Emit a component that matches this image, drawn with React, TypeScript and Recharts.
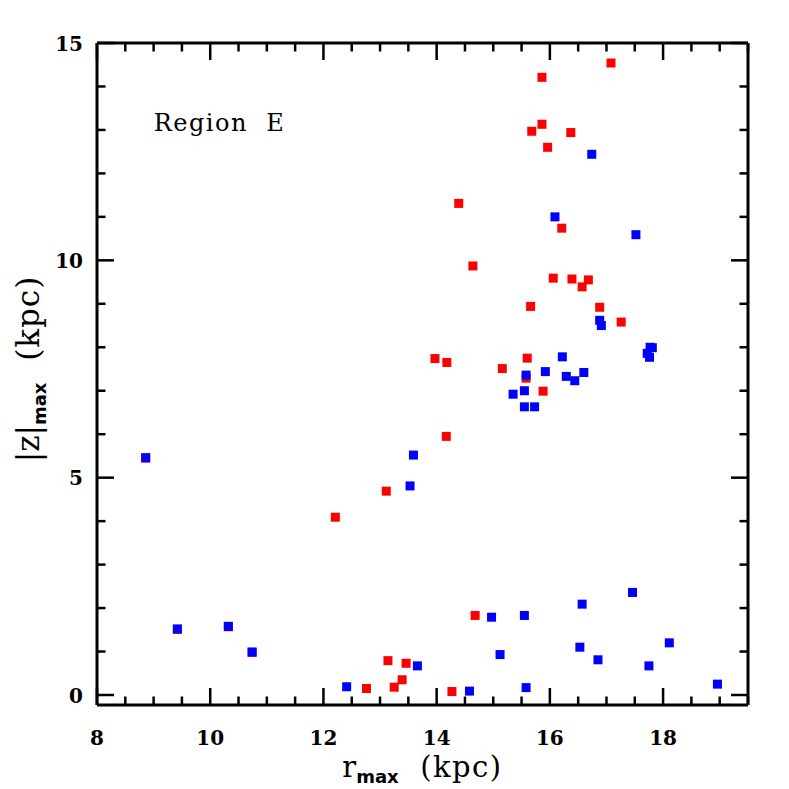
import React from 'react';
import { ScatterChart, Scatter, XAxis, YAxis, ReferenceDot } from 'recharts';

// red points (r_max, |z|_max)
const redR = [17.08, 15.86, 15.86, 15.68, 16.37, 15.96, 14.39, 16.21, 14.64, 16.06, 16.39, 16.68, 16.57, 15.66, 16.88, 17.26, 13.97, 14.18, 15.60, 15.16, 15.58, 15.88, 14.17, 13.11, 12.21, 13.14, 13.46, 13.39, 13.25, 12.76, 14.27, 14.68, 8.86, 9.42, 10.32, 10.74];
const redZ = [14.54, 14.21, 13.13, 12.97, 12.94, 12.60, 11.31, 10.74, 9.87, 9.59, 9.57, 9.55, 9.39, 8.94, 8.92, 8.58, 7.74, 7.65, 7.75, 7.51, 7.29, 6.99, 5.95, 4.69, 4.09, 0.79, 0.73, 0.35, 0.18, 0.15, 0.08, 1.83, 5.45, 1.51, 1.57, 0.98];

// blue points (r_max, |z|_max)
const blueR = [16.74, 16.09, 17.52, 16.88, 16.91, 17.77, 17.81, 17.72, 17.76, 16.22, 15.58, 15.92, 16.29, 16.44, 16.60, 15.35, 15.55, 15.55, 15.73, 13.59, 8.86, 13.53, 9.42, 10.32, 10.74, 13.66, 12.41, 14.58, 15.58, 18.96, 14.97, 15.55, 16.57, 17.46, 15.12, 16.53, 16.85, 17.75, 18.11];
const blueZ = [12.44, 11.00, 10.59, 8.62, 8.50, 8.00, 7.99, 7.86, 7.77, 7.78, 7.36, 7.44, 7.33, 7.23, 7.42, 6.92, 7.00, 6.63, 6.63, 5.52, 5.46, 4.81, 1.52, 1.58, 0.99, 0.67, 0.19, 0.09, 0.17, 0.25, 1.79, 1.83, 2.09, 2.36, 0.93, 1.10, 0.81, 0.67, 1.20];

const xTicks = [8, 8.5, 9, 9.5, 10, 10.5, 11, 11.5, 12, 12.5, 13, 13.5, 14, 14.5, 15, 15.5, 16, 16.5, 17, 17.5, 18, 18.5, 19, 19.5];
const xMajor = [8, 10, 12, 14, 16, 18];
const yTicks = [0, 1, 2, 3, 4, 5, 6, 7, 8, 9, 10, 11, 12, 13, 14, 15];
const yMajor = [0, 5, 10, 15];

const redData = redR.map((r, i) => ({ r, z: redZ[i] }));
const blueData = blueR.map((r, i) => ({ r, z: blueZ[i] }));

const FONT = '"DejaVu Serif", serif';
const SUBFONT = '"DejaVu Sans", sans-serif';
const MAJ = 17;
const MIN = 8.5;
const TW = 2.5;

const Square = (color: string) => (props: any) => {
  const { cx, cy } = props;
  if (cx == null || cy == null) return null;
  return <rect x={cx - 4.5} y={cy - 4.5} width={9} height={9} fill={color} />;
};

const BottomTick = (props: any) => {
  const { x, y, payload } = props;
  const v = payload.value;
  const major = xMajor.includes(v);
  return (
    <g>
      <line x1={x} y1={y} x2={x} y2={y - (major ? MAJ : MIN)} stroke="#000" strokeWidth={TW} />
      {major && (
        <text x={x} y={y + 40} textAnchor="middle" fontFamily={FONT} fontWeight="bold" fontSize={20} fill="#000">
          {v}
        </text>
      )}
    </g>
  );
};

const TopTick = (props: any) => {
  const { x, y, payload } = props;
  const major = xMajor.includes(payload.value);
  return <line x1={x} y1={y} x2={x} y2={y + (major ? MAJ : MIN)} stroke="#000" strokeWidth={TW} />;
};

const LeftTick = (props: any) => {
  const { x, y, payload } = props;
  const v = payload.value;
  const major = yMajor.includes(v);
  return (
    <g>
      <line x1={x} y1={y} x2={x + (major ? MAJ : MIN)} y2={y} stroke="#000" strokeWidth={TW} />
      {major && (
        <text x={x - 14} y={y + 7.5} textAnchor="end" fontFamily={FONT} fontWeight="bold" fontSize={20} fill="#000">
          {v}
        </text>
      )}
    </g>
  );
};

const RightTick = (props: any) => {
  const { x, y, payload } = props;
  const major = yMajor.includes(payload.value);
  return <line x1={x} y1={y} x2={x - (major ? MAJ : MIN)} y2={y} stroke="#000" strokeWidth={TW} />;
};

const XLabel = (props: any) => {
  const vb = props.viewBox || {};
  const cx = vb.x + vb.width / 2;
  const y = vb.y + 72;
  return (
    <text x={cx} y={y} textAnchor="middle" fontFamily={FONT} fontSize={29} fill="#000" style={{ whiteSpace: 'pre' }}>
      <tspan>r</tspan>
      <tspan dy={6} fontSize={18} fontWeight="bold" fontFamily={SUBFONT}>max</tspan>
      <tspan dy={-6} letterSpacing={1.5}>{'\u00a0\u00a0(kpc)'}</tspan>
    </text>
  );
};

const YLabel = (props: any) => {
  const vb = props.viewBox || {};
  const cx = vb.x + 22;
  const cy = vb.y + vb.height / 2 - 5;
  return (
    <text
      x={cx}
      y={cy}
      transform={`rotate(-90 ${cx} ${cy})`}
      textAnchor="middle"
      fontFamily={FONT}
      fontSize={31}
      fill="#000"
      style={{ whiteSpace: 'pre' }}
    >
      <tspan>|z|</tspan>
      <tspan dy={7} fontSize={18} fontWeight="bold" fontFamily={SUBFONT}>max</tspan>
      <tspan dy={-7} letterSpacing={1}>{'\u00a0\u00a0(kpc)'}</tspan>
    </text>
  );
};

const RegionLabel = (props: any) => {
  const vb = props.viewBox || {};
  return (
    <text x={vb.x} y={vb.y} fontFamily={FONT} fontSize={24} letterSpacing={1.5} fill="#000" style={{ whiteSpace: 'pre' }}>
      {'Region\u00a0\u00a0E'}
    </text>
  );
};

export default function App() {
  return (
    <div style={{ position: 'absolute', left: 0, top: 0, background: '#fff' }}>
      <ScatterChart
        width={789}
        height={789}
        margin={{ top: 33, right: 31, bottom: 44, left: 17 }}
        style={{ background: '#fff' }}
      >
        <XAxis
          xAxisId="b"
          dataKey="r"
          type="number"
          domain={[8, 19.5]}
          allowDataOverflow
          ticks={xTicks}
          interval={0}
          orientation="bottom"
          height={40}
          tickSize={0}
          tickMargin={0}
          tickLine={false}
          axisLine={{ stroke: '#000', strokeWidth: 3 }}
          tick={<BottomTick />}
          label={<XLabel />}
        />
        <XAxis
          xAxisId="t"
          dataKey="r"
          type="number"
          domain={[8, 19.5]}
          allowDataOverflow
          ticks={xTicks}
          interval={0}
          orientation="top"
          height={10}
          tickSize={0}
          tickMargin={0}
          tickLine={false}
          axisLine={{ stroke: '#000', strokeWidth: 3 }}
          tick={<TopTick />}
        />
        <YAxis
          yAxisId="l"
          dataKey="z"
          type="number"
          domain={[-0.23, 15]}
          allowDataOverflow
          ticks={yTicks}
          interval={0}
          orientation="left"
          width={80}
          tickSize={0}
          tickMargin={0}
          tickLine={false}
          axisLine={{ stroke: '#000', strokeWidth: 3 }}
          tick={<LeftTick />}
          label={<YLabel />}
        />
        <YAxis
          yAxisId="r"
          dataKey="z"
          type="number"
          domain={[-0.23, 15]}
          allowDataOverflow
          ticks={yTicks}
          interval={0}
          orientation="right"
          width={10}
          tickSize={0}
          tickMargin={0}
          tickLine={false}
          axisLine={{ stroke: '#000', strokeWidth: 3 }}
          tick={<RightTick />}
        />
        <Scatter
          xAxisId="b"
          yAxisId="l"
          data={redData}
          fill="#ff0000"
          shape={Square('#ff0000')}
          isAnimationActive={false}
        />
        <Scatter
          xAxisId="b"
          yAxisId="l"
          data={blueData}
          fill="#0000ff"
          shape={Square('#0000ff')}
          isAnimationActive={false}
        />
        <ReferenceDot
          xAxisId="b"
          yAxisId="l"
          x={9.02}
          y={12.95}
          r={1}
          fill="none"
          stroke="none"
          label={<RegionLabel />}
        />
      </ScatterChart>
    </div>
  );
}
